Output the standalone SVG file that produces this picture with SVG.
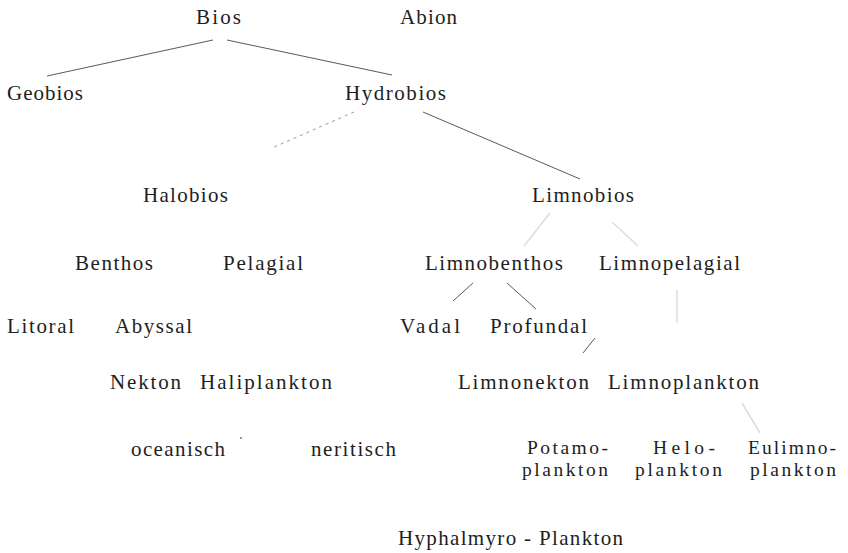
<svg xmlns="http://www.w3.org/2000/svg" width="848" height="553" viewBox="0 0 848 553">
<style>
text{font-family:"Liberation Serif","Times New Roman",serif;font-size:21px;fill:#1e1e1e}
text.s{font-size:19.5px}
.c{stroke:#5a5a5a;stroke-width:1;fill:none}
.f{stroke:#dcdcdc;stroke-width:1.5;fill:none}
.d{stroke:#9a9a9a;stroke-width:1;stroke-dasharray:3 4;fill:none}
</style>
<rect width="848" height="553" fill="#fff"/>
<g id="connectors">
<line class="c" x1="213" y1="40" x2="47" y2="76"/>
<line class="c" x1="227" y1="40" x2="392" y2="75"/>
<line class="d" x1="354" y1="112" x2="272" y2="148"/>
<line class="c" x1="423" y1="112" x2="580" y2="179"/>
<line class="f" x1="550" y1="213" x2="524" y2="246"/>
<line class="f" x1="612" y1="222" x2="638" y2="246"/>
<line class="c" x1="473" y1="283" x2="453" y2="301"/>
<line class="c" x1="507" y1="283" x2="536" y2="309"/>
<line class="c" x1="595" y1="338" x2="583" y2="353"/>
<line class="f" x1="677" y1="290" x2="677" y2="323"/>
<line class="f" x1="742" y1="403" x2="760" y2="433"/>
<circle cx="241" cy="438" r="0.9" fill="#666"/>
</g>
<g id="n-bios"><text x="196" y="24" textLength="45" lengthAdjust="spacing">Bios</text></g>
<g id="n-abion"><text x="400" y="24" textLength="57" lengthAdjust="spacing">Abion</text></g>
<g id="n-geobios"><text x="7" y="100" textLength="76" lengthAdjust="spacing">Geobios</text></g>
<g id="n-hydrobios"><text x="345" y="100" textLength="101" lengthAdjust="spacing">Hydrobios</text></g>
<g id="n-halobios"><text x="143" y="202" textLength="85" lengthAdjust="spacing">Halobios</text></g>
<g id="n-limnobios"><text x="532" y="202" textLength="102" lengthAdjust="spacing">Limnobios</text></g>
<g id="n-benthos"><text x="75" y="270" textLength="78" lengthAdjust="spacing">Benthos</text></g>
<g id="n-pelagial"><text x="223" y="270" textLength="80" lengthAdjust="spacing">Pelagial</text></g>
<g id="n-limnobenthos"><text x="425" y="270" textLength="138" lengthAdjust="spacing">Limnobenthos</text></g>
<g id="n-limnopelagial"><text x="599" y="270" textLength="141" lengthAdjust="spacing">Limnopelagial</text></g>
<g id="n-litoral"><text x="7" y="333" textLength="67" lengthAdjust="spacing">Litoral</text></g>
<g id="n-abyssal"><text x="115" y="333" textLength="77" lengthAdjust="spacing">Abyssal</text></g>
<g id="n-vadal"><text x="400" y="333" textLength="60" lengthAdjust="spacing">Vadal</text></g>
<g id="n-profundal"><text x="490" y="333" textLength="97" lengthAdjust="spacing">Profundal</text></g>
<g id="n-nekton"><text x="110" y="389" textLength="71" lengthAdjust="spacing">Nekton</text></g>
<g id="n-haliplankton"><text x="200" y="389" textLength="132" lengthAdjust="spacing">Haliplankton</text></g>
<g id="n-limnonekton"><text x="458" y="389" textLength="131" lengthAdjust="spacing">Limnonekton</text></g>
<g id="n-limnoplankton"><text x="608" y="389" textLength="151" lengthAdjust="spacing">Limnoplankton</text></g>
<g id="n-oceanisch"><text x="131" y="456" textLength="94" lengthAdjust="spacing">oceanisch</text></g>
<g id="n-neritisch"><text x="311" y="456" textLength="85" lengthAdjust="spacing">neritisch</text></g>
<g id="n-potamo"><text class="s" x="527" y="454" textLength="81" lengthAdjust="spacing">Potamo-</text><text class="s" x="522" y="476" textLength="86" lengthAdjust="spacing">plankton</text></g>
<g id="n-helo"><text class="s" x="653" y="454" textLength="62" lengthAdjust="spacing">Helo-</text><text class="s" x="635" y="476" textLength="87" lengthAdjust="spacing">plankton</text></g>
<g id="n-eulimno"><text class="s" x="748" y="454" textLength="88" lengthAdjust="spacing">Eulimno-</text><text class="s" x="750" y="476" textLength="86" lengthAdjust="spacing">plankton</text></g>
<g id="n-hyphalmyro"><text x="398" y="545" textLength="225" lengthAdjust="spacing">Hyphalmyro - Plankton</text></g>
</svg>
